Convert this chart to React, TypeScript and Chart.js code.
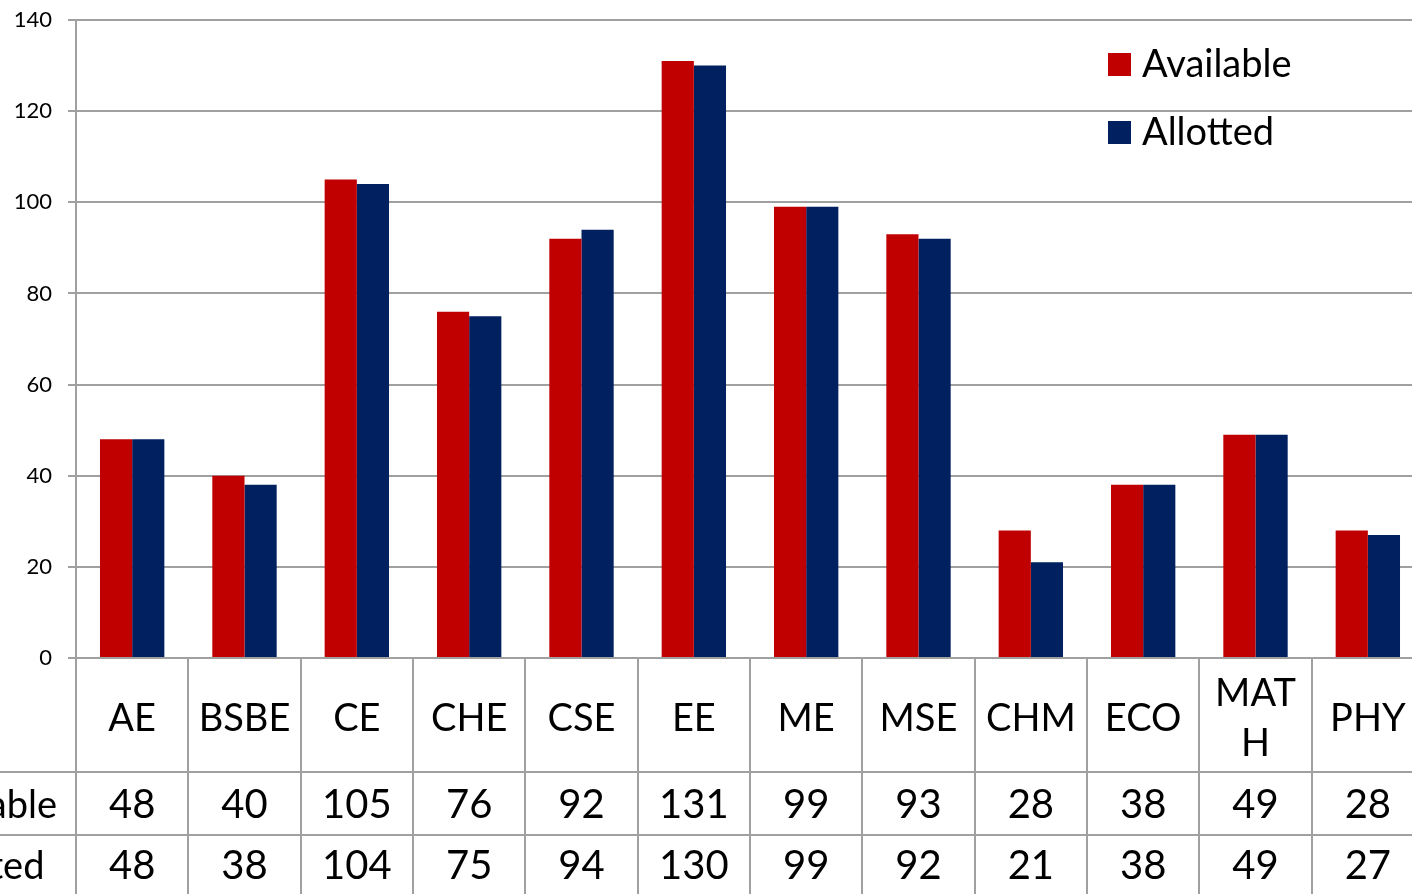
import React, { useEffect, useRef } from "react";
import { Chart, registerables } from "chart.js";

Chart.register(...registerables);

const categories = ["AE", "BSBE", "CE", "CHE", "CSE", "EE", "ME", "MSE", "CHM", "ECO", "MATH", "PHY"];
const categoryTickLabels = ["AE", "BSBE", "CE", "CHE", "CSE", "EE", "ME", "MSE", "CHM", "ECO", "MAT\nH", "PHY"];
const available = [48, 40, 105, 76, 92, 131, 99, 93, 28, 38, 49, 28];
const allotted = [48, 38, 104, 75, 94, 130, 99, 92, 21, 38, 49, 27];
const seriesLabels = ["Available", "Allotted"];
const seriesColors = ["#C00000", "#002060"];
const yMin = 0;
const yMax = 140;
const yStep = 20;

const FONT = "Lato, 'Open Sans', sans-serif";
const GRID = "#a0a0a0";

const tablePlugin = {
  id: "dataTable",
  afterDraw(chart: any) {
    const ctx = chart.ctx as CanvasRenderingContext2D;
    const x = chart.scales.x;
    const area = chart.chartArea;
    const n = categories.length;
    const step = x.getPixelForValue(1) - x.getPixelForValue(0);
    const first = x.getPixelForValue(0) - step / 2;
    const bottom = chart.height;
    const headerH = 114;
    const rowH = 63;
    const r1 = area.bottom + headerH;
    const r2 = r1 + rowH;

    ctx.save();
    ctx.strokeStyle = GRID;
    ctx.lineWidth = 2;
    ctx.beginPath();
    for (let i = 0; i <= n; i++) {
      const bx = Math.round(first + i * step);
      ctx.moveTo(bx, area.bottom);
      ctx.lineTo(bx, bottom);
    }
    ctx.moveTo(-300, r1);
    ctx.lineTo(area.right, r1);
    ctx.moveTo(-300, r2);
    ctx.lineTo(area.right, r2);
    ctx.stroke();

    ctx.fillStyle = "#000";
    ctx.textAlign = "center";
    ctx.textBaseline = "alphabetic";

    // header row
    ctx.font = `38px ${FONT}`;
    const headerMid = area.bottom + headerH / 2 + 2;
    for (let i = 0; i < n; i++) {
      const cx = x.getPixelForValue(i);
      const lines = categoryTickLabels[i].split("\n");
      const lh = 50;
      const startBase = headerMid + 13.5 - ((lines.length - 1) * lh) / 2;
      lines.forEach((ln, k) => ctx.fillText(ln, cx, startBase + k * lh));
    }

    // value rows
    const rows = [available, allotted];
    ctx.font = `40px ${FONT}`;
    rows.forEach((vals, r) => {
      const mid = r1 + r * rowH + rowH / 2 - (r === 1 ? 2 : 0);
      const base = mid + 14.5;
      for (let i = 0; i < n; i++) {
        ctx.fillText(String(vals[i]), x.getPixelForValue(i), base);
      }
    });

    // row labels (clipped at the left edge)
    ctx.font = `38px ${FONT}`;
    ctx.textAlign = "left";
    const lx = 57 - ctx.measureText(seriesLabels[0]).width;
    rows.forEach((_, r) => {
      const mid = r1 + r * rowH + rowH / 2 - (r === 1 ? 2 : 0);
      ctx.fillText(seriesLabels[r], lx + (r === 1 ? 5 : 0), mid + 14);
    });

    // legend
    ctx.font = `38px ${FONT}`;
    const legX = 1108;
    const legY = [53, 121];
    seriesLabels.forEach((lab, k) => {
      ctx.fillStyle = seriesColors[k];
      ctx.fillRect(legX, legY[k], 23, 23);
      ctx.fillStyle = "#000";
      ctx.fillText(lab, legX + 34, legY[k] + 24);
    });
    ctx.restore();
  },
};

export default function App() {
  const ref = useRef<HTMLCanvasElement | null>(null);

  useEffect(() => {
    if (!ref.current) return;
    const chart = new Chart(ref.current, {
      type: "bar",
      data: {
        labels: categories,
        datasets: [
          { label: seriesLabels[0], data: available, backgroundColor: seriesColors[0] },
          { label: seriesLabels[1], data: allotted, backgroundColor: seriesColors[1] },
        ],
      },
      options: {
        animation: false,
        responsive: false,
        layout: { padding: { top: 20, bottom: 236, left: 0, right: 16 } },
        datasets: { bar: { categoryPercentage: 0.573, barPercentage: 1 } },
        plugins: { legend: { display: false }, tooltip: { enabled: false } },
        scales: {
          x: { display: false },
          y: {
            min: yMin,
            max: yMax,
            ticks: {
              stepSize: yStep,
              padding: 16,
              color: "#000",
              font: { family: FONT, size: 22 },
            },
            grid: { color: GRID, lineWidth: 2, tickLength: 8 },
            border: { color: GRID, width: 2 },
            afterFit: (scale: any) => {
              scale.width = 76;
              scale.paddingTop = 0;
              scale.paddingBottom = 0;
            },
          },
        },
      },
      plugins: [tablePlugin],
    } as any);
    return () => chart.destroy();
  }, []);

  return (
    <div
      style={{
        position: "fixed",
        left: 0,
        top: 0,
        width: 1412,
        height: 894,
        overflow: "hidden",
        background: "#fff",
      }}
    >
      <canvas ref={ref} width={1440} height={894} style={{ display: "block" }} />
    </div>
  );
}
